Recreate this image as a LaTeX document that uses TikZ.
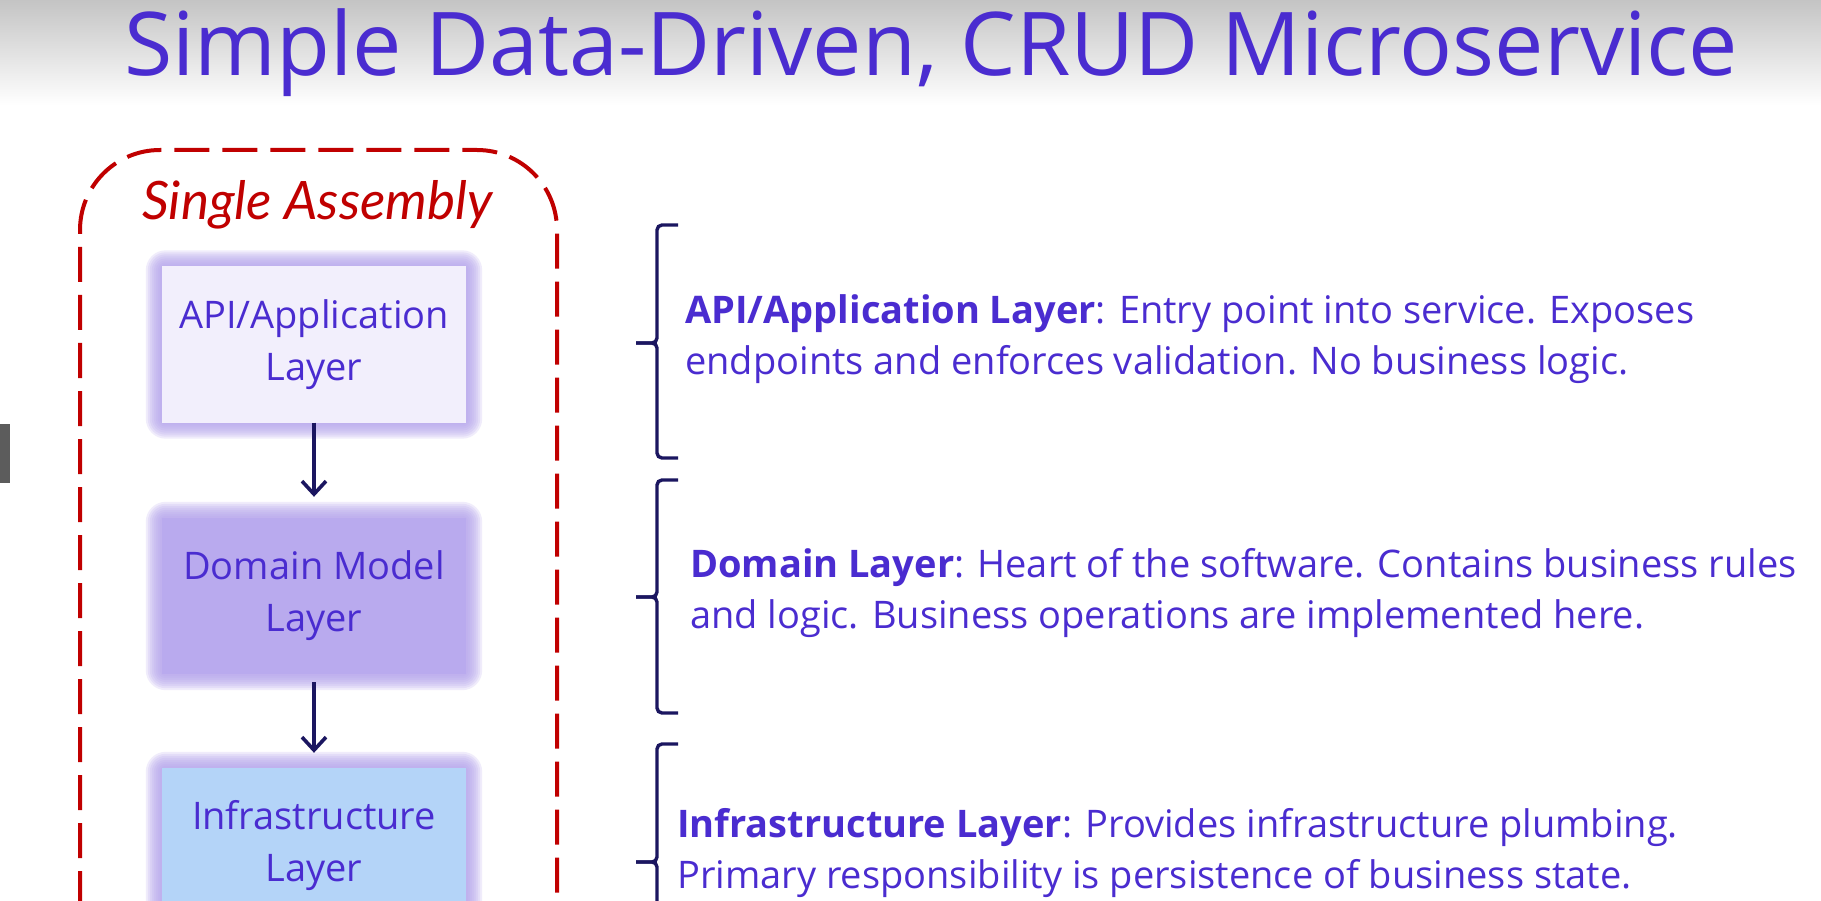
\documentclass[tikz,border=0pt]{standalone}
\usepackage{fontspec}
\setmainfont{Open Sans}
\newfontfamily\handfont{Lato}
\usetikzlibrary{arrows.meta,backgrounds}

\definecolor{titleblue}{RGB}{74,44,208}
\definecolor{glowpurple}{RGB}{180,164,236}
\definecolor{apifill}{RGB}{242,239,252}
\definecolor{domfill}{RGB}{185,170,238}
\definecolor{infrafill}{RGB}{180,212,248}
\definecolor{assemblyred}{RGB}{192,0,0}
\definecolor{linknavy}{RGB}{27,22,96}
\definecolor{tabgray}{RGB}{92,92,92}
\definecolor{headgray}{RGB}{196,196,196}

\tikzset{
  layerbox/.style={minimum width=304pt, minimum height=156pt, inner sep=0pt,
    align=center, text=titleblue, font=\fontsize{38}{52}\selectfont},
  layerlink/.style={draw=linknavy, line width=3.6pt,
    -{Straight Barb[length=13pt,width=24pt,line width=3.6pt]}},
  bracket/.style={draw=linknavy, line width=3.4pt, rounded corners=5pt},
  notetext/.style={anchor=base west, align=left, text=titleblue,
    font=\fontsize{38}{51}\selectfont, inner sep=0pt},
  assembly/.style={draw=assemblyred, line width=4pt, rounded corners=80pt,
    dash pattern=on 35pt off 13pt}
}

% soft glow around a layer box, drawn behind it
\newcommand\layerglow[1]{%
  \foreach \e in {1,...,8}{%
    \fill[glowpurple, opacity=0.2, rounded corners=2*\e pt+4pt]
      ([shift={(-2*\e,-2*\e)}]#1.north west) rectangle
      ([shift={(2*\e,2*\e)}]#1.south east);
  }}

% square bracket with a pointed middle
\newcommand\layerbracket[3]{%
  \draw[bracket] (678,#1) -- (657,#1) -- (657,#2) -- (636,#2);
  \draw[bracket] (636,#2) -- (657,#2) -- (657,#3) -- (678,#3);
}

\begin{document}
\begin{tikzpicture}[x=1pt,y=-1pt]
  \useasboundingbox (0,0) rectangle (1821,901);
  \clip (0,0) rectangle (1821,901);

  % title
  \node[anchor=base, text=titleblue, inner sep=0pt,
        font=\fontsize{88}{88}\selectfont] (title) at (931,76)
        {Simple Data-Driven, CRUD Microservice};

  % assembly boundary
  \draw[assembly] (80,1050) -- (80,150) -- (557,150) -- (557,1050);
  \node[anchor=base west, inner sep=0pt, text=assemblyred,
        font=\handfont\itshape\fontsize{53}{53}\selectfont] (asm) at (142,220)
        {Single Assembly};

  % layers
  \node[layerbox, fill=apifill]   (api)   at (314,344.5) {API/Application\\Layer};
  \node[layerbox, fill=domfill]   (dom)   at (314,596)   {Domain Model\\Layer};
  \node[layerbox, fill=infrafill] (infra) at (314,846)   {Infrastructure\\Layer};
  \begin{scope}[on background layer]
    \fill[white] (0,0) rectangle (1821,901);
    \shade[top color=headgray, bottom color=white] (0,0) rectangle (1821,105);
    \layerglow{api}
    \layerglow{dom}
    \layerglow{infra}
  \end{scope}

  \draw[layerlink] (api.south) -- ([yshift=21pt]dom.north);
  \draw[layerlink] ([yshift=-8pt]dom.south) -- ([yshift=15pt]infra.north);

  % brackets and notes
  \layerbracket{225}{343}{458}
  \layerbracket{480}{597}{713}
  \layerbracket{744}{862}{980}

  \node[notetext] (napi) at (685,374)
    {\textbf{API/Application Layer}: Entry point into service. Exposes\\
     endpoints and enforces validation. No business logic.};
  \node[notetext] (ndom) at (690,628)
    {\textbf{Domain Layer}: Heart of the software. Contains business rules\\
     and logic. Business operations are implemented here.};
  \node[notetext] (ninfra) at (677,888)
    {\textbf{Infrastructure Layer}: Provides infrastructure plumbing.\\
     Primary responsibility is persistence of business state.};

  % side tab
  \fill[tabgray] (0,424) rectangle (10,483);
\end{tikzpicture}
\end{document}
